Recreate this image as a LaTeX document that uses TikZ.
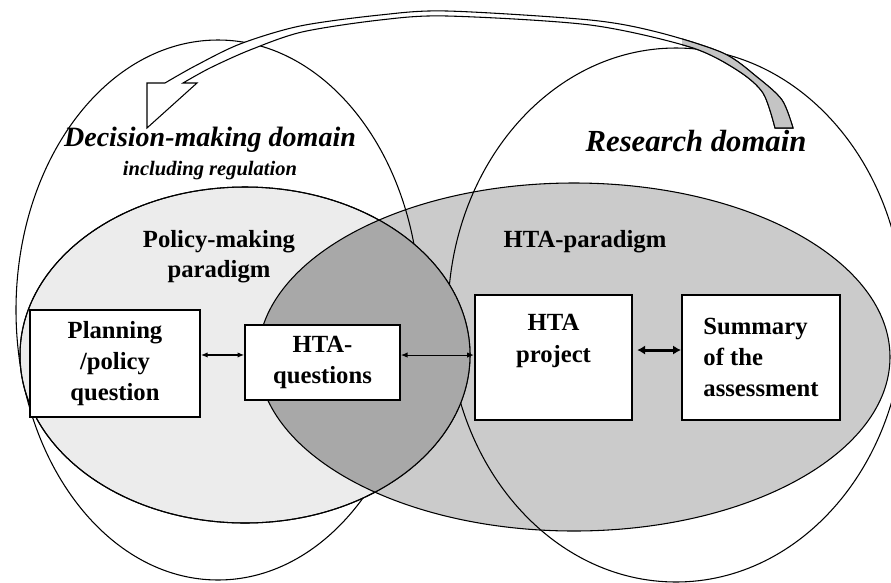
\documentclass[tikz,border=0pt]{standalone}
\usepackage{fontspec}
\setmainfont{Liberation Serif}
\usepackage{xcolor}
\definecolor{polfill}{RGB}{236,236,236}
\definecolor{htafill}{RGB}{203,203,203}
\definecolor{lensfill}{RGB}{168,168,168}
\definecolor{bandgray}{RGB}{196,196,196}
\usetikzlibrary{arrows.meta, positioning}
\newcommand{\bandpath}{plot[smooth] coordinates {(793,128) (782,100) (757,77) (723,53) (657,32) (590,20) (447,11) (380,15) (300,26) (240,44) (195,66) (165,83)}
  -- (147,83) -- (147,128) -- (197,83) -- (183,83)
  -- plot[smooth] coordinates {(183,83) (210,68) (250,50) (302,32) (380,20) (447,16) (590,25) (690,47) (737,70) (763,93) (775,128)} -- cycle}

\begin{document}
\begin{tikzpicture}[x=0.75pt, y=-0.75pt,
  outline/.style={draw=black, line width=0.8pt},
  boxnode/.style={draw=black, fill=white, line width=1.5pt, inner sep=0pt,
        font=\fontsize{18.5}{23.5}\selectfont\bfseries, align=center},
  boxtext/.style={font=\fontsize{18.5}{23.5}\selectfont\bfseries, align=center},
  paralabel/.style={font=\fontsize{18.5}{22.5}\selectfont\bfseries, align=center},
  link/.style={{Latex[length=5pt,width=4pt]}-{Latex[length=5pt,width=4pt]}, line width=0.8pt},
  biglink/.style={{Latex[length=6pt,width=7pt]}-{Latex[length=6pt,width=7pt]}, line width=2.2pt}]
  \useasboundingbox (0,0) rectangle (891,582);
  \clip (0,0) rectangle (891,582);
  \fill[white] (0,0) rectangle (891,582);

  % HTA paradigm
  \filldraw[fill=htafill, outline] (574,357) ellipse [x radius=316, y radius=174];
  % domains
  \draw[outline] (218,310) ellipse [x radius=202, y radius=270];
  \draw[outline] (676,315) ellipse [x radius=228, y radius=267];
  % policy-making paradigm
  \filldraw[fill=polfill, outline] (245,355) ellipse [x radius=225, y radius=168];
  \begin{scope}
    \clip (245,355) ellipse [x radius=225, y radius=168];
    \filldraw[fill=lensfill, outline] (574,357) ellipse [x radius=316, y radius=174];
  \end{scope}
  \draw[outline] (245,355) ellipse [x radius=225, y radius=168];

  % feedback arrow
  \filldraw[fill=white, outline] \bandpath;
  \begin{scope}
    \clip (682,0) rectangle (891,200);
    \filldraw[fill=bandgray, outline] \bandpath;
  \end{scope}

  % labels
  \node[font=\fontsize{21}{24}\selectfont\bfseries\itshape] (decision) at (210,140) {Decision-making domain};
  \node[font=\fontsize{15.4}{18}\selectfont\bfseries\itshape] (regulation) at (210,171) {including regulation};
  \node[font=\fontsize{23}{26}\selectfont\bfseries\itshape] (research) at (696,141) {Research domain};
  \node[paralabel] (policy) at (219,257) {Policy-making\\paradigm};
  \node[paralabel] (htapar) at (585,242) {HTA-paradigm};

  % boxes
  \node[boxnode, minimum width=127.5pt, minimum height=80pt] (plan) at (115,363.5) {Planning\\/policy\\question};
  \node[boxnode, minimum width=116pt, minimum height=56pt] (htaq) at (322.5,362.5) {HTA-\\questions};
  \node[boxnode, minimum width=118pt, minimum height=94pt] (hproj) at (553.5,357.5) {};
  \node[boxtext, below=12pt of hproj.north] (hprojtxt) {HTA\\project};
  \node[boxnode, minimum width=118.5pt, minimum height=94pt, align=left] (summ) at (761,357.5) {Summary\\of the\\assessment};

  \draw[link] ([yshift=6.4pt]plan.east) -- ([yshift=6.4pt]plan.east -| htaq.west);
  \draw[link] ([yshift=5.6pt]htaq.east) -- ([yshift=5.6pt]htaq.east -| hproj.west);
  \draw[biglink, shorten <=3pt] ([yshift=5.6pt]hproj.east) -- ([yshift=5.6pt]hproj.east -| summ.west);
\end{tikzpicture}
\end{document}
